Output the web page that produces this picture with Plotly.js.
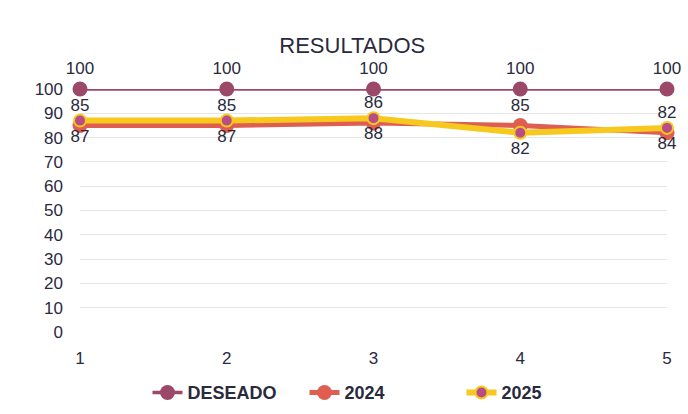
<!DOCTYPE html>
<html><head><meta charset="utf-8">
<script src="https://cdn.plot.ly/plotly-3.0.1.min.js"></script>
<style>body{margin:0;background:#fff}#c{width:688px;height:414px}</style>
</head><body><div id="c"></div>
<script>
const categories = [1, 2, 3, 4, 5];
const deseado = [100, 100, 100, 100, 100];
const s2024 = [85, 85, 86, 85, 82];
const s2025 = [87, 87, 88, 82, 84];
const yTicks = [0,10,20,30,40,50,60,70,80,90,100];

const txtFont = {family: 'Liberation Sans, Arial, sans-serif', size: 17, color: '#2a2a3e'};
const traces = [
  {x: categories, y: deseado, name: 'DESEADO', mode: 'lines+markers+text',
   text: deseado.map(String), textposition: 'top center', textfont: txtFont,
   line: {color: '#9c4868', width: 3.5}, marker: {color: '#9c4868', size: 15}, cliponaxis: false},
  {x: categories, y: s2024, name: '2024', mode: 'lines+markers+text',
   text: s2024.map(String), textposition: 'top center', textfont: txtFont,
   line: {color: '#de5f52', width: 5}, marker: {color: '#de5f52', size: 15}, cliponaxis: false},
  {x: categories, y: s2025, name: '2025', mode: 'lines+markers+text',
   text: s2025.map(String), textposition: 'bottom center', textfont: txtFont,
   line: {color: '#f7c81e', width: 6}, marker: {color: '#b84c86', size: 12, line: {color: '#f7c81e', width: 2}}, cliponaxis: false}
];
const layout = {
  width: 688, height: 414,
  paper_bgcolor: '#fff', plot_bgcolor: '#fff',
  margin: {l: 80, r: 21, t: 89, b: 82, autoexpand: false},
  title: {text: 'RESULTADOS', x: 0.512, xanchor: 'center', y: 0.89, yanchor: 'middle',
          font: {family: 'Liberation Sans Narrow, Arial Narrow, Liberation Sans, sans-serif', size: 22, color: '#2a2a3e'}},
  xaxis: {range: [1, 5], tickvals: categories, ticktext: categories.map(String), showgrid: false, zeroline: false,
          showline: false, ticks: '', ticklabelstandoff: 14, automargin: false,
          tickfont: {family: 'Liberation Sans, Arial, sans-serif', size: 17, color: '#2a2a3e'}},
  yaxis: {range: [0, 100], tickvals: yTicks, showgrid: true, gridcolor: '#e6e6e6', gridwidth: 1, zeroline: false,
          ticks: '', ticklabelstandoff: 16, automargin: false,
          tickfont: {family: 'Liberation Sans, Arial, sans-serif', size: 17, color: '#2a2a3e'}},
  showlegend: true,
  legend: {orientation: 'h', x: 0.115, xanchor: 'left', y: -0.25, yanchor: 'middle', entrywidth: 112,
           font: {family: 'Liberation Sans, Arial, sans-serif', size: 18, color: '#2a2a3e', weight: 'bold'}}
};
Plotly.newPlot('c', traces, layout, {displayModeBar: false, staticPlot: true});
</script></body></html>
